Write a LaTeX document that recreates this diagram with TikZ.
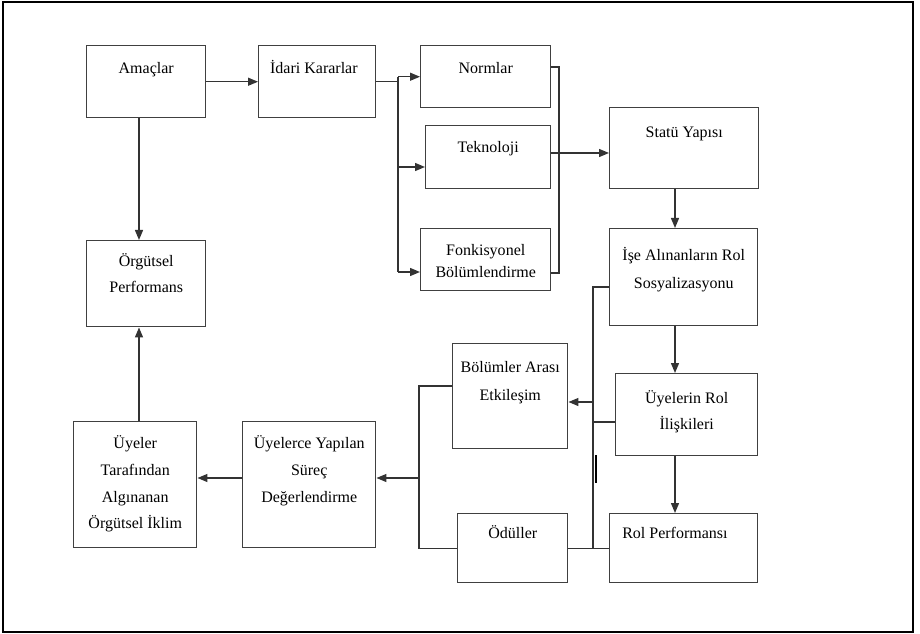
\documentclass[tikz,border=0pt]{standalone}
\usepackage{fontspec}
\setmainfont{Liberation Serif}
\usetikzlibrary{arrows.meta,positioning}

\begin{document}
\begin{tikzpicture}[x=0.75pt, y=-0.75pt,
    kutu/.style 2 args={draw=black!75, line width=1.1pt, anchor=north west, inner sep=0pt,
        minimum width=#1*0.75pt, minimum height=#2*0.75pt},
    yazi/.style={inner sep=0pt, align=center, font=\fontsize{12}{20}\selectfont,
        execute at begin node=\strut},
    hat/.style={draw=black!80, line width=1pt},
    ok/.style={hat, -{Triangle[length=7.5pt, width=6pt]}}]

    % page frame
    \useasboundingbox (0,0) rectangle (920,634);
    \draw[line width=1.1pt] (3,2) rectangle (913,632);

    % boxes
    \node[kutu={119}{72}] (amac) at (86,45) {};
    \node[kutu={117}{72}] (idari) at (258,45) {};
    \node[kutu={130}{62}] (norm) at (420,45) {};
    \node[kutu={125}{63}] (tekn) at (425,125) {};
    \node[kutu={130}{62}] (fonk) at (420,228) {};
    \node[kutu={149}{81}] (statu) at (609,107) {};
    \node[kutu={148}{97}] (ise) at (609,228) {};
    \node[kutu={142}{82}] (uyrol) at (615,373) {};
    \node[kutu={148}{69}] (rolp) at (609,513) {};
    \node[kutu={115}{105}] (bolum) at (452,343) {};
    \node[kutu={110}{69}] (odul) at (457,513) {};
    \node[kutu={119}{86}] (orgper) at (86,240) {};
    \node[kutu={133}{126}] (surec) at (242,421) {};
    \node[kutu={123}{126}] (iklim) at (73,421) {};

    % texts
    \node[yazi, below=7.1pt of amac.north] (amac-y) {Amaçlar};
    \node[yazi, below=7.1pt of idari.north, xshift=-2.5pt] (idari-y) {İdari Kararlar};
    \node[yazi, below=7.1pt of norm.north] (norm-y) {Normlar};
    \node[yazi, below=6.4pt of tekn.north] (tekn-y) {Teknoloji};
    \node[yazi, font=\fontsize{12}{16.5}\selectfont, below=12.4pt of fonk.north] (fonk-y) {Fonkisyonel\\Bölümlendirme};
    \node[yazi, below=8.7pt of statu.north] (statu-y) {Statü Yapısı};
    \node[yazi, font=\fontsize{12}{21}\selectfont, below=14pt of ise.north] (ise-y) {İşe Alınanların Rol\\Sosyalizasyonu};
    \node[yazi, font=\fontsize{12}{19.5}\selectfont, below=13.3pt of uyrol.north] (uyrol-y) {Üyelerin Rol\\İlişkileri};
    \node[yazi, below right=5pt and 9.75pt of rolp.north west] (rolp-y) {Rol Performansı};
    \node[yazi, font=\fontsize{12}{21}\selectfont, below=13.3pt of bolum.north] (bolum-y) {Bölümler Arası\\Etkileşim};
    \node[yazi, below=5pt of odul.north] (odul-y) {Ödüller};
    \node[yazi, below=9.8pt of orgper.north] (orgper-y) {Örgütsel\\Performans};
    \node[yazi, below=10.9pt of surec.north] (surec-y) {Üyelerce Yapılan\\Süreç\\Değerlendirme};
    \node[yazi, below=10.9pt of iklim.north] (iklim-y) {Üyeler\\Tarafından\\Algınanan\\Örgütsel İklim};

    % helper columns for the connectors
    \coordinate (sol) at (139,0);
    \coordinate (sp) at (398,0);
    \coordinate (sg) at (559,0);
    \coordinate (kol2) at (419,0);
    \coordinate (kol) at (593,0);
    \coordinate (dik) at (675,0);

    % connectors
    \draw[ok] (amac.east) -- (idari.west);
    \draw[ok] (amac.south -| sol) -- (orgper.north -| sol);
    \draw[ok] (iklim.north -| sol) -- (orgper.south -| sol);

    \draw[hat] (idari.east) -- (idari.east -| sp);
    \draw[hat] (sp |- norm.west) -- (sp |- 0,272);
    \draw[ok] (sp |- norm.west) -- (norm.west);
    \draw[ok] (sp |- 0,167) -- (tekn.west |- 0,167);
    \draw[ok] (sp |- 0,272) -- (fonk.west |- 0,272);
    \draw[hat] (norm.east |- 0,67) -| (sg |- 0,273) -- (fonk.east |- 0,273);
    \draw[ok] (tekn.east |- 0,153) -- (statu.west |- 0,153);

    \draw[ok] (statu.south -| dik) -- (ise.north -| dik);
    \draw[ok] (ise.south -| dik) -- (uyrol.north -| dik);
    \draw[ok] (uyrol.south -| dik) -- (rolp.north -| dik);

    \draw[hat] (ise.west |- 0,287) -| (kol |- rolp.west);
    \draw[hat] (odul.east) -- (rolp.west);
    \draw[hat] (uyrol.west |- 0,422) -- (kol |- 0,422);
    \draw[ok] (kol |- 0,402) -- (bolum.east |- 0,402);
    \draw[line width=1.5pt] (596,455) -- (596,483);

    \draw[hat] (bolum.west |- 0,386) -| (kol2 |- odul.west) -- (odul.west);
    \draw[ok] (kol2 |- 0,478) -- (surec.east |- 0,478);
    \draw[ok] (surec.west |- 0,478) -- (iklim.east |- 0,478);
\end{tikzpicture}
\end{document}
